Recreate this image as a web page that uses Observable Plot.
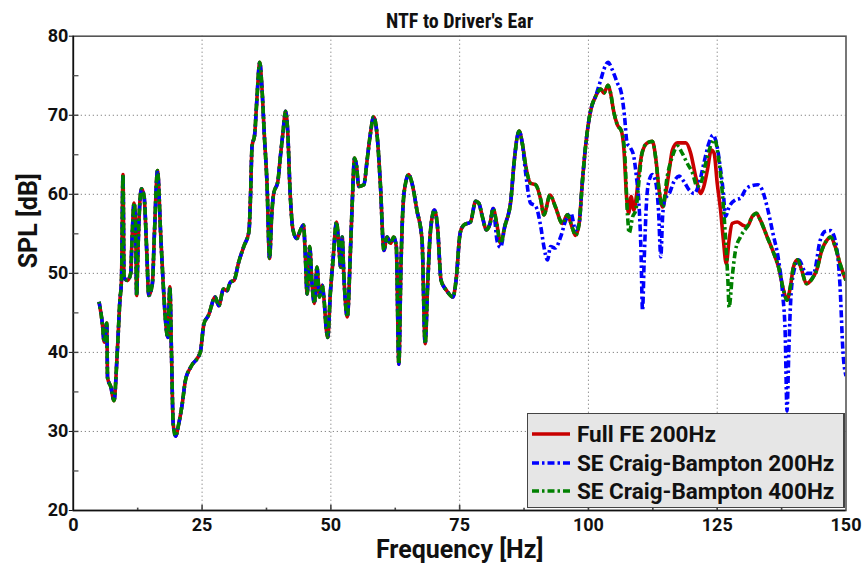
<!DOCTYPE html>
<html>
<head>
<meta charset="utf-8">
<script src="https://cdn.jsdelivr.net/npm/d3@7"></script>
<script src="https://cdn.jsdelivr.net/npm/@observablehq/plot@0.6"></script>
<style>
  html, body { margin: 0; padding: 0; background: #fff; }
  #wrap { position: relative; width: 865px; height: 569px; font-family: Roboto, "DejaVu Sans", sans-serif; }
  #legend { position: absolute; left: 527px; top: 413px; width: 318px; height: 95px; box-sizing: border-box;
            background: #e6e6e6; border: 1.5px solid #444; border-right-width: 2px; }
  .row { position: absolute; left: 0; height: 28px; display: flex; align-items: center; }
  .row svg { margin-left: 3px; margin-right: 6px; }
  .row span { font-weight: bold; font-size: 22.5px; color: #111; white-space: nowrap; }
</style>
</head>
<body>
<div id="wrap"></div>
<script>
// ---- data (frequency Hz, SPL dB) ----
const title = "NTF to Driver's Ear";
const xLabel = "Frequency [Hz]";
const yLabel = "SPL [dB]";
const seriesNames = ["Full FE 200Hz", "SE Craig-Bampton 200Hz", "SE Craig-Bampton 400Hz"];
const seriesColors = ["#c80000", "#0000ff", "#008000"];
const xTicks = [0, 25, 50, 75, 100, 125, 150];
const xMinor = [12.5, 37.5, 62.5, 87.5, 112.5, 137.5];
const yTicks = [20, 30, 40, 50, 60, 70, 80];
const yMinor = [25, 35, 45, 55, 65, 75];

// shared part (all three models coincide)
const sharedLow = [
  [5.0,46.4],[5.65,43.6],[6.0,41.3],[6.5,43.7],[6.65,36.8],[7.3,35.6],[7.9,33.9],[8.55,40.2],
  [9.05,46.6],[9.35,49.1],[9.65,62.5],[9.85,49.5],[10.5,49.1],[11.15,50.0],[11.35,53.4],[11.8,58.9],
  [12.1,55.9],[12.3,47.2],[12.55,52.9],[12.95,59.3],[13.25,60.7],[13.75,59.7],[14.25,52.9],[14.65,47.2],
  [15.35,48.7],[15.75,55.1],[16.35,63.0],[16.95,55.1],[17.45,48.7],[18.15,42.4],[18.35,41.9],[18.75,48.3],
  [19.05,40.2],[19.4,30.9],[19.85,29.4],[20.45,30.9],[21.15,33.5],[21.75,36.4],[22.75,38.1],[24.65,40.0],
  [25.35,43.6],[26.25,44.7],[27.55,47.0],[28.25,45.9],[29.15,48.0],[29.85,47.8],[30.5,48.9],[31.2,49.1],
  [32.1,51.4],[33.1,53.4],[34.1,55.3],[34.4,59.7],[34.7,66.1],[35.2,67.5],[35.6,71.6],[36.2,76.7],
  [36.6,73.7],[37.1,67.3],[37.6,61.4],[38.1,51.9],[38.5,57.2],[38.9,60.1],[39.7,61.6],[40.2,64.8],
  [40.7,67.8],[41.2,70.5],[41.6,68.2],[42.1,60.1],[42.65,55.5],[43.4,54.4],[44.1,55.5],[44.7,56.1],
  [45.0,52.9],[45.4,47.4],[45.9,53.4],[46.3,49.1],[46.8,46.2],[47.3,50.8],[47.8,47.0],[48.3,48.5],
  [48.7,46.5],[49.1,43.0],[49.4,41.9],[49.9,47.5],[50.4,51.5],[51.1,56.5],[51.6,52.9],[51.9,50.8],
  [52.2,54.6],[52.5,50.0],[53.2,44.5],[53.8,52.9],[54.15,58.9],[54.6,64.6],[55.0,63.5],[55.4,61.0],
  [56.4,61.2],[57.05,64.4],[57.6,67.3],[58.3,69.8],[59.0,67.3],[59.6,61.4],[60.3,52.9],[60.9,54.6],
  [61.6,53.8],[62.2,54.6],[62.7,53.4],[63.2,38.5],[63.6,50.8],[64.0,58.4],[64.5,61.4],[65.1,62.5],
  [65.75,61.4],[66.7,58.0],[67.7,54.2],[68.3,41.1],[68.8,48.7],[69.3,55.1],[70.1,58.0],[70.7,55.9],
  [71.4,49.1],[72.5,47.8],[73.7,47.0],[74.3,49.1],[75.1,55.1],[75.8,56.1],[77.1,56.5],[78.1,59.1],
  [78.7,58.9],[79.4,57.2],[80.2,55.5],[80.9,56.3],[81.5,58.2]
];

const fullFeHigh = [
  [82.2,56.3],[82.95,53.8],[83.75,55.9],[84.95,59.3],[85.55,63.9],[86.55,68.0],[87.15,66.5],[87.85,63.5],
  [88.75,61.4],[89.75,61.2],[90.75,59.3],[91.35,57.4],[92.55,59.9],[93.6,58.4],[94.95,56.3],[95.9,57.4],
  [96.9,55.7],[97.5,54.8],[98.2,56.3],[98.8,61.4],[99.45,66.1],[100.4,70.5],[101.4,72.4],[102.4,73.3],
  [103.0,72.8],[103.8,73.8],[104.3,72.8],[104.9,70.5],[105.6,68.8],[106.4,68.0],[106.9,65.6],[107.4,59.7],
  [107.8,57.6],[108.3,59.7],[108.8,58.0],[109.3,59.7],[109.8,62.7],[110.4,65.2],[111.4,66.5],[112.4,66.7],
  [113.1,64.4],[113.7,60.6],[114.4,58.4],[115.0,60.1],[115.7,63.1],[116.3,65.6],[117.3,66.5],[118.9,66.5],
  [119.85,65.2],[120.8,62.3],[121.8,60.1],[122.4,61.0],[123.1,63.1],[123.85,65.6],[124.4,65.2],[125.0,61.4],
  [125.65,58.0],[126.2,54.2],[126.75,51.2],[127.3,54.2],[127.9,56.3],[128.9,56.5],[129.9,56.1],[130.8,55.9],
  [131.8,57.2],[132.6,57.6],[133.4,56.7],[134.7,54.6],[136.0,52.5],[136.9,50.8],[137.9,47.8],[138.55,46.6],
  [139.2,48.3],[139.8,50.8],[140.6,51.7],[141.4,50.4],[142.3,48.7],[143.4,49.3],[144.3,50.4],[145.3,52.9],
  [146.3,54.2],[147.0,54.6],[147.9,53.4],[148.85,51.2],[150.0,49.1]
];

const cb200High = [
  [82.3,54.0],[82.95,53.3],[83.75,55.9],[84.95,59.3],[85.55,63.9],[86.55,68.0],[87.15,66.5],[87.85,62.5],
  [88.75,58.9],[89.75,58.5],[90.75,55.9],[91.35,53.4],[92.05,51.7],[92.65,53.4],[93.6,53.2],[94.6,54.6],
  [95.6,56.7],[96.6,57.6],[97.5,55.5],[98.2,56.3],[98.8,61.4],[99.45,66.1],[100.4,70.5],[101.4,72.4],
  [102.4,74.5],[103.0,75.8],[103.8,76.7],[104.6,75.8],[105.6,74.1],[106.4,72.8],[107.0,69.9],[107.5,66.5],
  [108.15,65.9],[108.8,64.8],[109.3,62.3],[109.8,58.9],[110.2,52.9],[110.5,45.3],[110.8,51.2],[111.3,59.3],
  [111.8,61.8],[112.4,62.5],[113.1,61.4],[113.6,58.0],[114.05,52.1],[114.4,57.2],[114.8,59.3],[115.7,60.1],
  [116.6,61.6],[117.6,62.3],[118.55,61.6],[119.5,60.6],[120.5,60.1],[121.5,61.4],[122.4,63.9],[123.4,66.5],
  [124.2,67.5],[124.9,66.3],[125.65,63.1],[126.2,60.1],[126.6,57.2],[127.3,58.4],[128.55,59.3],[129.5,59.5],
  [130.5,60.6],[131.8,61.1],[132.9,61.2],[133.7,60.6],[134.7,58.4],[135.8,55.1],[136.9,51.7],[137.7,47.4],
  [138.2,42.3],[138.55,32.6],[138.9,40.2],[139.2,45.7],[139.8,50.0],[140.8,51.7],[142.3,50.0],[143.7,50.0],
  [145.0,54.2],[145.9,55.3],[147.0,55.4],[147.9,54.2],[148.85,48.3],[149.4,40.2],[150.0,37.0]
];

const cb400High = [
  [82.2,56.3],[82.95,53.8],[83.75,55.9],[84.95,59.3],[85.55,63.9],[86.55,68.0],[87.15,66.5],[87.85,63.5],
  [88.75,61.4],[89.75,61.2],[90.75,59.3],[91.35,57.4],[92.55,59.9],[93.6,58.4],[94.95,56.3],[95.9,57.4],
  [96.9,55.7],[97.5,54.8],[98.2,56.3],[98.8,61.4],[99.45,66.1],[100.4,70.5],[101.4,72.4],[102.4,73.3],
  [103.0,72.8],[103.8,73.8],[104.3,72.8],[104.9,70.5],[105.6,68.8],[106.4,68.0],[107.0,65.6],[107.6,57.2],
  [107.9,55.1],[108.6,57.2],[109.2,58.0],[109.9,62.3],[110.4,65.2],[111.4,66.5],[112.4,66.7],[113.1,64.4],
  [113.7,60.6],[114.4,58.4],[115.3,62.3],[116.3,64.8],[117.3,66.1],[118.2,65.2],[119.2,63.9],[120.2,62.7],
  [121.1,61.0],[121.8,61.4],[122.75,63.9],[123.7,66.1],[124.5,66.9],[125.3,64.4],[126.0,60.1],[126.6,54.6],
  [127.1,48.7],[127.3,45.7],[127.9,49.5],[128.55,52.9],[129.5,54.6],[130.8,55.9],[132.1,57.4],[132.6,57.6],
  [133.4,56.7],[134.7,54.6],[136.0,52.5],[136.9,50.8],[137.9,47.8],[138.55,46.6],[139.2,48.3],[139.8,50.8],
  [140.6,51.7],[141.4,50.4],[142.3,48.7],[143.4,49.3],[144.3,50.4],[145.3,52.9],[146.3,54.2],[147.0,54.6],
  [147.9,53.4],[148.85,51.2],[150.0,49.1]
];

// ---- build ----
const toRows = (arr, s) => arr.map(([f, db]) => ({f, db, s}));
const rowsFull = toRows([...sharedLow, ...fullFeHigh], seriesNames[0]);
const rowsCb200 = toRows([...sharedLow, ...cb200High], seriesNames[1]);
const rowsCb400 = toRows([...sharedLow, ...cb400High], seriesNames[2]);

const tickFont = {fontSize: 18, fontWeight: "bold", fill: "#111"};
const dashBlue = "7,3,2.5,3";
const dashGreen = "7,3,2.5,3";
const lineOpts = {x: "f", y: "db", strokeWidth: 3.6, curve: "monotone-x", clip: true, strokeLinecap: "butt", strokeLinejoin: "round"};

const chart = Plot.plot({
  width: 865,
  height: 569,
  marginLeft: 72.8,
  marginRight: 19.5,
  marginTop: 35.7,
  marginBottom: 59,
  style: {fontFamily: "Roboto, 'DejaVu Sans', sans-serif", background: "#fff"},
  x: {domain: [0, 150]},
  y: {domain: [20, 80]},
  marks: [
    Plot.gridX(xTicks.slice(1, -1), {stroke: "#666", strokeOpacity: 1, strokeDasharray: "1,3"}),
    Plot.gridY(yTicks.slice(1, -1), {stroke: "#666", strokeOpacity: 1, strokeDasharray: "1,3"}),
    Plot.lineY(rowsFull, {...lineOpts, stroke: seriesColors[0]}),
    Plot.lineY(rowsCb200, {...lineOpts, stroke: seriesColors[1], strokeDasharray: dashBlue}),
    Plot.lineY(rowsCb400, {...lineOpts, stroke: seriesColors[2], strokeDasharray: dashGreen, strokeDashoffset: 5}),
    Plot.frame({stroke: "#555", strokeWidth: 1.6}),
    Plot.ruleX([0], {stroke: "#111", strokeWidth: 1.6}),
    Plot.ruleY([20], {stroke: "#111", strokeWidth: 1.6}),
    // inward ticks
    Plot.ruleX(xTicks.slice(1, -1), {y1: 20, y2: 20.65, stroke: "#444", strokeWidth: 1.6}),
    Plot.ruleX(xMinor, {y1: 20, y2: 20.3, stroke: "#444", strokeWidth: 1.6}),
    Plot.ruleY(yTicks.slice(1, -1), {x1: 0, x2: 1.1, stroke: "#444", strokeWidth: 1.4}),
    Plot.ruleY(yMinor, {x1: 0, x2: 1.1, stroke: "#444", strokeWidth: 1.2}),
    Plot.axisX(xTicks, {tickSize: 0, tickPadding: 8, ...tickFont, label: null}),
    Plot.axisY(yTicks, {tickSize: 4, tickPadding: 1, ...tickFont, stroke: "#111", label: null}),
    Plot.text([title], {frameAnchor: "top", dy: -22, fontSize: 20, fontWeight: "bold",
      fontFamily: "'Liberation Sans Narrow', 'Roboto Condensed', Roboto, sans-serif", fill: "#111"}),
    Plot.text([xLabel], {frameAnchor: "bottom", dy: 47, fontSize: 25, fontWeight: "bold", fill: "#111"}),
    Plot.text([yLabel], {frameAnchor: "left", dx: -44, dy: -5, rotate: -90, fontSize: 25, fontWeight: "bold", fill: "#111"})
  ]
});

const wrap = document.getElementById("wrap");
wrap.appendChild(chart);

// legend (HTML overlay inside plot frame)
const legend = document.createElement("div");
legend.id = "legend";
const dashes = [null, dashBlue, dashGreen];
seriesNames.forEach((name, i) => {
  const row = document.createElement("div");
  row.className = "row";
  row.style.top = (6 + i * 28.5) + "px";
  row.innerHTML = `<svg width="40" height="10"><line x1="1" y1="5" x2="39" y2="5" stroke="${seriesColors[i]}" stroke-width="3.4" ${dashes[i] ? `stroke-dasharray="${dashes[i]}"` : ""}/></svg><span>${name}</span>`;
  legend.appendChild(row);
});
wrap.appendChild(legend);
</script>
</body>
</html>
